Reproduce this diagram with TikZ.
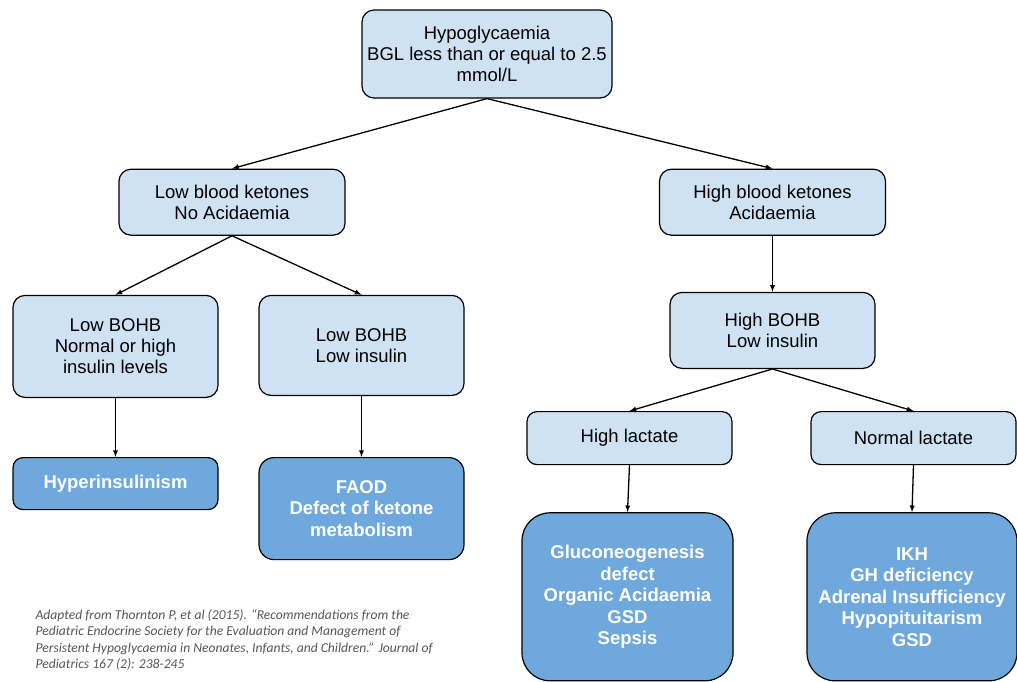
\documentclass[tikz,border=0pt]{standalone}
\usepackage{fontspec}
\setmainfont{Liberation Sans}
\newfontfamily\citefont{Carlito}
\usetikzlibrary{positioning}
\definecolor{lightbox}{HTML}{CFE2F3}
\definecolor{darkbox}{HTML}{6FA8DC}
\definecolor{citegray}{HTML}{555555}

\begin{document}
\begin{tikzpicture}[
	main/.style={rectangle, rounded corners=12pt, align=center, draw=black, line width=1.2pt, fill=lightbox, minimum width=205pt, font=\fontsize{18.5}{21}\selectfont},
	result/.style={main, fill=darkbox, text=white, font=\fontsize{18.5}{21.5}\selectfont\bfseries},
	cite/.style={align=left, inner sep=0pt, text=citegray, font=\citefont\itshape\fontsize{13.6}{16.5}\selectfont},
	link/.style={-latex, line width=1.3pt}
	]

	\useasboundingbox (0pt,0pt) rectangle (1017pt,-681pt);

	\node (hypo) [main, minimum width=250pt, minimum height=88pt] at (487pt,-54pt) {Hypoglycaemia\\BGL less than or equal to 2.5\\mmol/L};

		\node (lowket) [main, minimum width=226pt, minimum height=66pt, below=70pt of hypo, xshift=-255pt] {Low blood ketones\\No Acidaemia};
			\node (lowbohbins) [main, minimum height=102pt, below=59pt of lowket, xshift=-116.5pt] {Low BOHB\\Normal or high\\insulin levels};
				\node (hyperins) [result, rounded corners=10pt, minimum height=52pt, below=59pt of lowbohbins] {Hyperinsulinism};
			\node (lowbohblow) [main, minimum height=100pt, below=59pt of lowket, xshift=129.5pt] {Low BOHB\\Low insulin};
				\node (faod) [result, rounded corners=15pt, minimum height=102pt, below=61pt of lowbohblow] {FAOD\\Defect of ketone\\metabolism};

		\node (highket) [main, minimum width=226pt, minimum height=66pt, below=70pt of hypo, xshift=285.5pt] {High blood ketones\\Acidaemia};
			\node (highbohb) [main, minimum height=76pt, below=56pt of highket] {High BOHB\\Low insulin};
				\node (highlac) [main, rounded corners=10pt, minimum height=53pt, below=42pt of highbohb, xshift=-143pt] {High lactate};
					\node (gluco) [result, rounded corners=28pt, minimum width=211pt, minimum height=168pt, below=47pt of highlac, xshift=-2pt] {Gluconeogenesis\\defect\\Organic Acidaemia\\GSD\\Sepsis};
				\node (normlac) [main, rounded corners=10pt, minimum height=53pt, below=42pt of highbohb, xshift=141pt] {Normal lactate};
					\node (ikh) [result, rounded corners=28pt, minimum width=210pt, minimum height=168pt, below=47pt of normlac, xshift=-1.5pt] {IKH\\GH deficiency\\Adrenal Insufficiency\\Hypopituitarism\\GSD};

	\node (source) [cite, below=99pt of hyperins.south west, anchor=north west, xshift=23pt] {Adapted from Thornton P, et al (2015). “Recommendations from the\\Pediatric Endocrine Society for the Evaluation and Management of\\Persistent Hypoglycaemia in Neonates, Infants, and Children.” Journal of\\Pediatrics 167 (2): 238-245};

	\draw [link] (hypo.south)--(lowket.north);
	\draw [link] (hypo.south)--(highket.north);

	\draw [link] (lowket.south)--(lowbohbins.north);
	\draw [link] (lowket.south)--(lowbohblow.north);
	\draw [link] (lowbohbins.south)--(hyperins.north);
	\draw [link] (lowbohblow.south)--(faod.north);

	\draw [link] (highket.south)--(highbohb.north);
	\draw [link] (highbohb.south)--(highlac.north);
	\draw [link] (highbohb.south)--(normlac.north);
	\draw [link] (highlac.south)--(gluco.north);
	\draw [link] (normlac.south)--(ikh.north);

\end{tikzpicture}
\end{document}
